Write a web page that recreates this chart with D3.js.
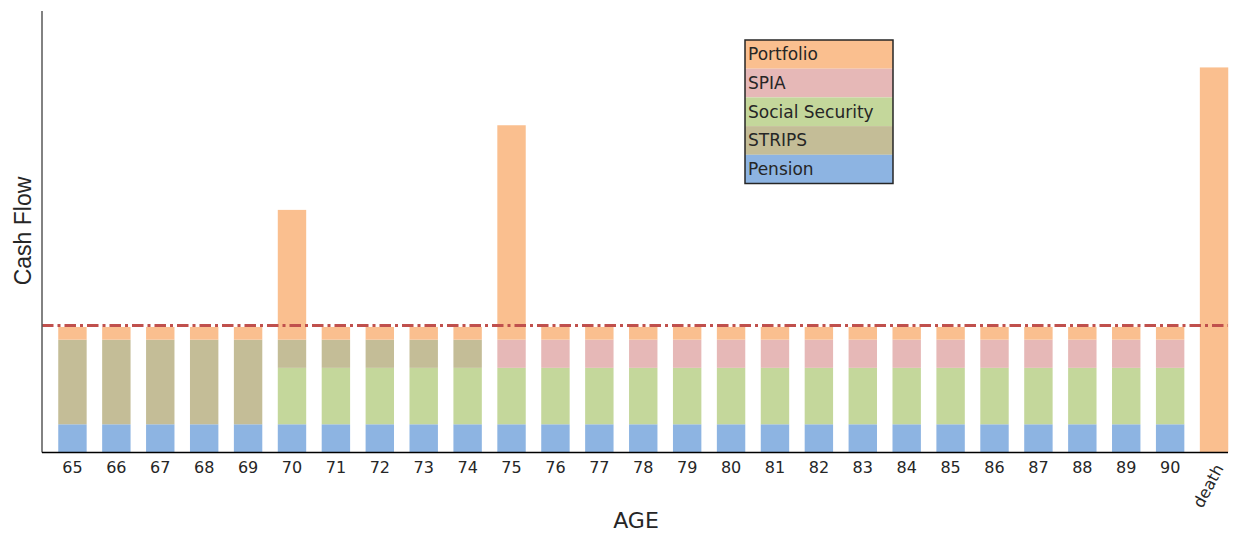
<!DOCTYPE html>
<html>
<head>
<meta charset="utf-8">
<script src="https://cdn.jsdelivr.net/npm/d3@7"></script>
<style>
  body { margin: 0; background: #fff; }
  #chart { width: 1236px; height: 535px; }
</style>
</head>
<body>
<div id="chart"></div>
<script>
// Cash flow by age – stacked income sources with spending line

const ages = ["65", "66", "67", "68", "69", "70", "71", "72", "73", "74", "75", "76", "77",
  "78", "79", "80", "81", "82", "83", "84", "85", "86", "87", "88", "89", "90", "death"];

const pension = [2, 2, 2, 2, 2, 2, 2, 2, 2, 2, 2, 2, 2, 2, 2, 2, 2, 2, 2, 2, 2, 2, 2, 2, 2, 2, 0];
const socialSecurity = [0, 0, 0, 0, 0, 4, 4, 4, 4, 4, 4, 4, 4, 4, 4, 4, 4, 4, 4, 4, 4, 4, 4, 4, 4, 4, 0];
const strips = [6, 6, 6, 6, 6, 2, 2, 2, 2, 2, 0, 0, 0, 0, 0, 0, 0, 0, 0, 0, 0, 0, 0, 0, 0, 0, 0];
const spia = [0, 0, 0, 0, 0, 0, 0, 0, 0, 0, 2, 2, 2, 2, 2, 2, 2, 2, 2, 2, 2, 2, 2, 2, 2, 2, 0];
const portfolio = [0.9, 0.9, 0.9, 0.9, 0.9, 9.2, 0.9, 0.9, 0.9, 0.9, 15.2, 0.9, 0.9, 0.9,
  0.9, 0.9, 0.9, 0.9, 0.9, 0.9, 0.9, 0.9, 0.9, 0.9, 0.9, 0.9, 27.3];

const spendingLevel = 9;
const yMax = 31.3;

const seriesKeys = ["Pension", "Social Security", "STRIPS", "SPIA", "Portfolio"];
const legendOrder = ["Portfolio", "SPIA", "Social Security", "STRIPS", "Pension"];

(function () {
  const width = 1236;
  const height = 535;
  const margin = { top: 11, right: 8, bottom: 82.5, left: 42 };

  const rows = ages.map((age, i) => ({
    age,
    "Pension": pension[i],
    "Social Security": socialSecurity[i],
    "STRIPS": strips[i],
    "SPIA": spia[i],
    "Portfolio": portfolio[i]
  }));

  const series = d3.stack().keys(seriesKeys)(rows);

  const svg = d3.select("#chart")
    .append("svg")
    .attr("width", width)
    .attr("height", height);

  const x = d3.scaleBand()
    .domain(ages)
    .range([50.5, 1236])
    .paddingInner(0.353)
    .paddingOuter(0.1765);

  const y = d3.scaleLinear()
    .domain([0, yMax])
    .range([height - margin.bottom, margin.top]);

  const color = d3.scaleOrdinal()
    .domain(["Pension", "STRIPS", "Social Security", "SPIA", "Portfolio"])
    .range(["#8DB4E2", "#C4BD97", "#C4D79B", "#E6B8B7", "#FABF8F"]);

  // bars
  svg.append("g")
    .selectAll("g")
    .data(series)
    .enter()
    .append("g")
    .attr("fill", d => color(d.key))
    .selectAll("rect")
    .data(d => d)
    .enter()
    .append("rect")
    .attr("x", d => x(d.data.age))
    .attr("y", d => y(d[1]))
    .attr("width", x.bandwidth())
    .attr("height", d => y(d[0]) - y(d[1]));

  const axisRight = 1228;

  // spending line
  svg.append("line")
    .attr("x1", margin.left)
    .attr("x2", axisRight)
    .attr("y1", y(spendingLevel))
    .attr("y2", y(spendingLevel))
    .attr("stroke", "#C0504D")
    .attr("stroke-width", 3)
    .attr("stroke-dasharray", "11.5,4,3,4");

  // axes
  svg.append("line")
    .attr("x1", margin.left)
    .attr("x2", margin.left)
    .attr("y1", margin.top)
    .attr("y2", y(0))
    .attr("stroke", "#595959")
    .attr("stroke-width", 1.5);

  const xAxisG = svg.append("g")
    .attr("transform", `translate(0,${y(0)})`)
    .call(d3.axisBottom(x).tickSize(0).tickPadding(9));

  xAxisG.select(".domain").remove();
  xAxisG.selectAll("text")
    .style("font-family", "'Century Gothic', 'DejaVu Sans', sans-serif")
    .style("font-size", "16px")
    .attr("fill", "#262626");

  xAxisG.selectAll(".tick")
    .filter(d => d === "death")
    .select("text")
    .attr("text-anchor", "end")
    .attr("dy", "0.35em")
    .attr("y", 0)
    .attr("transform", "translate(5,13) rotate(-62)");

  svg.append("line")
    .attr("x1", margin.left)
    .attr("x2", axisRight)
    .attr("y1", y(0))
    .attr("y2", y(0))
    .attr("stroke", "#000")
    .attr("stroke-width", 1.5);

  // axis titles
  svg.append("text")
    .attr("x", 636)
    .attr("y", 528)
    .attr("text-anchor", "middle")
    .style("font-family", "'Century Gothic', 'DejaVu Sans', sans-serif")
    .style("font-size", "22px")
    .attr("fill", "#262626")
    .text("AGE");

  svg.append("text")
    .attr("transform", "translate(31,231) rotate(-90)")
    .attr("text-anchor", "middle")
    .style("font-family", "'Liberation Sans', Arial, sans-serif")
    .style("font-size", "23px")
    .attr("fill", "#262626")
    .text("Cash Flow");

  // legend
  const legend = svg.append("g")
    .attr("transform", "translate(745,40)");

  const rowH = 28.7;
  const legW = 148;

  legendOrder.forEach((key, i) => {
    const gRow = legend.append("g")
      .attr("transform", `translate(0,${i * rowH})`);

    gRow.append("rect")
      .attr("width", legW)
      .attr("height", rowH)
      .attr("fill", color(key));

    gRow.append("text")
      .attr("x", 3)
      .attr("y", rowH / 2)
      .attr("dy", "0.35em")
      .style("font-family", "'Century Gothic', 'DejaVu Sans', sans-serif")
      .style("font-size", "17px")
      .attr("fill", "#262626")
      .text(key);
  });

  legend.append("rect")
    .attr("width", legW)
    .attr("height", rowH * legendOrder.length)
    .attr("fill", "none")
    .attr("stroke", "#262626")
    .attr("stroke-width", 1.5);
})();
</script>
</body>
</html>
